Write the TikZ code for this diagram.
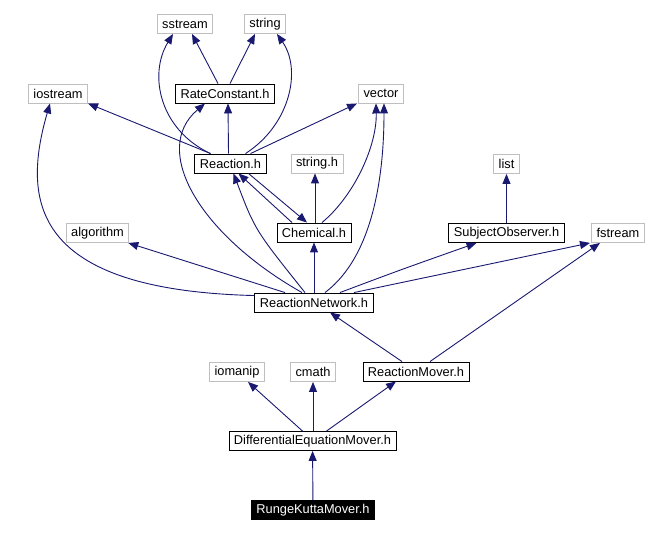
\documentclass[tikz,border=0pt]{standalone}
\usepackage{fontspec}
\setmainfont{Liberation Sans}
\usetikzlibrary{arrows.meta}
\definecolor{bleunuit}{HTML}{191970}
\definecolor{grisclair}{HTML}{BFBFBF}

\begin{document}
\begin{tikzpicture}[x=1pt,y=-1pt,
    fich/.style={draw=black,line width=0.9pt,font=\fontsize{12.8}{14}\selectfont,inner xsep=5pt,inner ysep=2pt,minimum height=19pt},
    sys/.style={fich,draw=grisclair},
    dep/.style={bleunuit,line width=0.9pt,-{Triangle[length=10pt,width=8pt]}}]
          \fill[white] (0,0) rectangle (660,534);
          \useasboundingbox (0,0) rectangle (660,534);

          % Fichiers du projet et en-tetes systeme
          \node[sys] (sstream) at (185,24) {sstream};
          \node[sys] (string) at (265,24) {string};
          \node[fich] (rc) at (225,93.5) {RateConstant.h};
          \node[sys] (iostream) at (58,93.5) {iostream};
          \node[sys] (vector) at (381,93.5) {vector};
          \node[fich] (reaction) at (230.5,163.5) {Reaction.h};
          \node[sys] (stringh) at (317,163.5) {string.h};
          \node[sys] (list) at (506.5,164) {list};
          \node[sys] (algorithm) at (97.5,233) {algorithm};
          \node[fich] (chem) at (314,232.5) {Chemical.h};
          \node[fich] (so) at (506.5,233) {SubjectObserver.h};
          \node[sys] (fstream) at (618,233) {fstream};
          \node[fich] (rn) at (314,302.5) {ReactionNetwork.h};
          \node[sys] (iomanip) at (237,372) {iomanip};
          \node[sys] (cmath) at (313,372) {cmath};
          \node[fich] (rm) at (416,371.5) {ReactionMover.h};
          \node[fich] (dem) at (312.5,441) {DifferentialEquationMover.h};
          \node[fich,fill=black,text=white] (rk) at (313,510) {RungeKuttaMover.h};

          % Dependances du bas
          \draw[dep] (rk) -- (dem);
          \draw[dep] ([xshift=-10pt]dem.north) -- (iomanip);
          \draw[dep] (dem.north -| cmath) -- (cmath);
          \draw[dep] ([xshift=14pt]dem.north) -- ([xshift=-20pt]rm.south);
          \draw[dep] ([xshift=-14pt]rm.north) -- ([xshift=16pt]rn.south);
          \draw[dep] ([xshift=14pt]rm.north) -- ([xshift=-18pt]fstream.south);

          % Dependances de ReactionNetwork.h
          \draw[dep] ([yshift=-3pt]rn.north west) .. controls (30,290) and (22,200) .. ([xshift=-8pt]iostream.south);
          \draw[dep] ([xshift=-29pt]rn.north) -- ([xshift=-1pt]algorithm.south east);
          \draw[dep] ([xshift=-12pt]rn.north) .. controls (200,235) and (150,150) .. ([xshift=-20pt]rc.south);
          \draw[dep] ([xshift=-9pt]rn.north) .. controls (255,230) .. ([xshift=3pt]reaction.south);
          \draw[dep] (rn) -- (chem);
          \draw[dep] ([xshift=11pt]rn.north) .. controls (375,255) and (384,170) .. ([xshift=3pt]vector.south);
          \draw[dep] ([xshift=26pt]rn.north) .. controls (400,270) .. ([xshift=-30pt]so.south);
          \draw[dep] ([xshift=40pt]rn.north) -- ([xshift=-28pt]fstream.south);

          % Dependances de Reaction.h et Chemical.h
          \draw[dep] ([xshift=-20pt]reaction.north) -- ([xshift=30pt]iostream.south);
          \draw[dep] ([xshift=-20pt]reaction.north) .. controls (160,130) and (148,75) .. ([xshift=-12pt]sstream.south);
          \draw[dep] ([xshift=-2pt]reaction.north) -- ([xshift=3pt]rc.south);
          \draw[dep] ([xshift=15pt]reaction.north) .. controls (290,125) and (302,70) .. ([xshift=12pt]string.south);
          \draw[dep] ([xshift=20pt]reaction.north) -- ([xshift=-24pt]vector.south);
          \draw[dep] ([xshift=18pt]reaction.south) -- ([xshift=-7pt]chem.north);
          \draw[dep] ([xshift=-22pt]chem.north) -- ([xshift=8pt]reaction.south);
          \draw[dep] ([xshift=1pt]chem.north) -- ([xshift=-2pt]stringh.south);
          \draw[dep] ([xshift=8pt]chem.north) .. controls (355,195) and (377,145) .. ([xshift=-5pt]vector.south);

          % Ajout des dependances de RateConstant.h et SubjectObserver.h
          \draw[dep] ([xshift=-7pt]rc.north) -- ([xshift=7pt]sstream.south);
          \draw[dep] ([xshift=5pt]rc.north) -- ([xshift=-10pt]string.south);
          \draw[dep] (so) -- (list);
      \end{tikzpicture}
\end{document}
